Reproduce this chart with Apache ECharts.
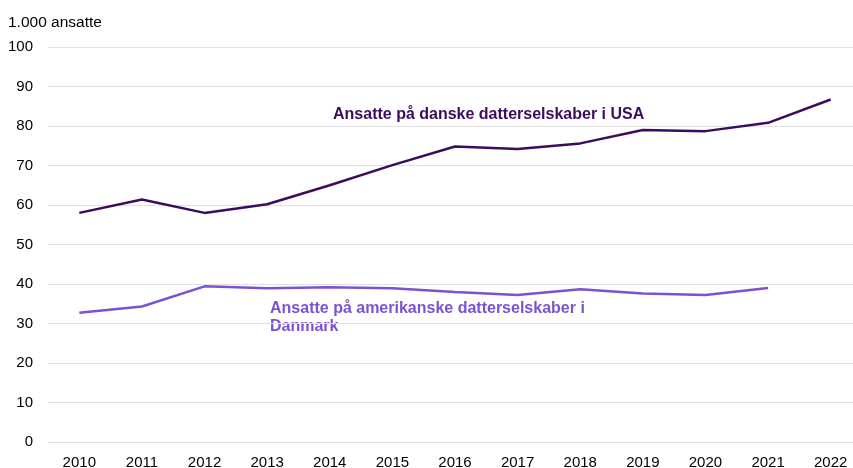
<!DOCTYPE html>
<html>
<head>
<meta charset="utf-8">
<script src="https://cdn.jsdelivr.net/npm/echarts@6/dist/echarts.min.js"></script>
<style>
  html, body { margin: 0; padding: 0; background: #fff; }
  #chart { width: 853px; height: 468px; }
</style>
</head>
<body>
<div id="chart"></div>
<script>
var years = ['2010','2011','2012','2013','2014','2015','2016','2017','2018','2019','2020','2021','2022'];
var danskeIUSA = [58.0, 61.4, 58.0, 60.2, 65.0, 70.1, 74.8, 74.2, 75.6, 79.0, 78.7, 80.8, 86.7];
var amerikanskeIDK = [32.7, 34.3, 39.4, 38.9, 39.2, 38.9, 38.0, 37.2, 38.7, 37.6, 37.2, 39.0, null];

var darkColor = '#3d0b5e';
var lightColor = '#7b52d1';
var font = '"Liberation Sans", Arial, sans-serif';

var myChart = echarts.init(document.getElementById('chart'));
var option = {
    animation: false,
    grid: { left: 48, width: 814, top: 47, bottom: 26, containLabel: false, outerBoundsMode: 'none' },
    xAxis: {
        type: 'category',
        data: years,
        boundaryGap: true,
        axisLine: { show: false },
        axisTick: { show: false },
        axisLabel: { color: '#000', fontSize: 15, fontFamily: font, margin: 13 }
    },
    yAxis: {
        type: 'value',
        min: 0,
        max: 100,
        interval: 10,
        axisLine: { show: false },
        axisTick: { show: false },
        axisLabel: { color: '#000', fontSize: 15, fontFamily: font, margin: 15 },
        splitLine: { lineStyle: { color: '#e0e0e0', width: 1 } }
    },
    series: [
        {
            name: 'Ansatte på danske datterselskaber i USA',
            type: 'line',
            data: danskeIUSA,
            symbol: 'none',
            lineStyle: { color: darkColor, width: 2.5 }
        },
        {
            name: 'Ansatte på amerikanske datterselskaber i Danmark',
            type: 'line',
            data: amerikanskeIDK,
            symbol: 'none',
            lineStyle: { color: lightColor, width: 2.5 }
        }
    ],
    graphic: [
        {
            type: 'text', left: 8, top: 15,
            style: { text: '1.000 ansatte', fill: '#000', font: '15.5px ' + font }
        },
        {
            type: 'text', left: 333, top: 107,
            style: { text: 'Ansatte på danske datterselskaber i USA', fill: darkColor, font: 'bold 16px ' + font }
        },
        {
            type: 'text', left: 270, top: 300,
            style: { text: 'Ansatte på amerikanske datterselskaber i\nDanmark', fill: lightColor, font: 'bold 16px ' + font, lineHeight: 18 }
        }
    ]
};
myChart.setOption(option);
</script>
</body>
</html>
